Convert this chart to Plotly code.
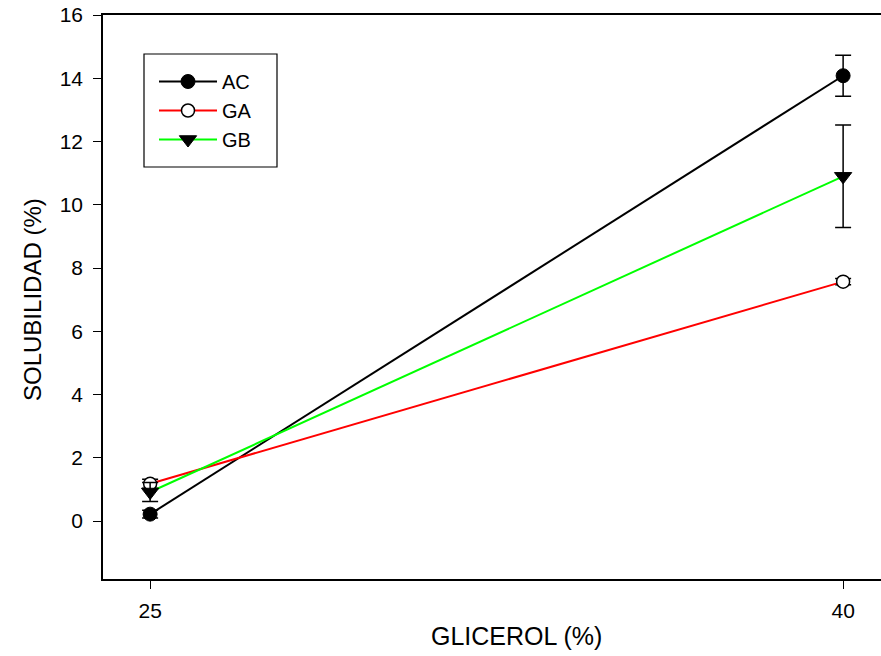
import plotly.graph_objects as go

glicerol = [25, 40]
ac = [0.22, 14.08]
ac_err = [0.12, 0.65]
ga = [1.18, 7.57]
ga_err = [0.14, 0.1]
gb = [0.92, 10.9]
gb_err = [0.3, 1.62]

series = [
    ("AC", ac, ac_err, "black", dict(symbol="circle", color="black", size=14, line=dict(color="black", width=1))),
    ("GA", ga, ga_err, "#ff0000", dict(symbol="circle", color="white", size=13, line=dict(color="black", width=1.5))),
    ("GB", gb, gb_err, "#00ff00", dict(symbol="triangle-down", color="black", size=15, line=dict(color="black", width=1))),
]

W, H = 881, 656
L, R, T, B = 103, 0, 15, 77
PW, PH = W - L - R, H - T - B


def px_x(px):
    return (px - L) / PW


def px_y(py):
    return (H - B - py) / PH


fig = go.Figure()
for name, y, err, col, mk in series:
    fig.add_trace(go.Scatter(
        x=glicerol, y=y, name=name, mode="lines+markers",
        line=dict(color=col, width=2), marker=mk,
        error_y=dict(type="data", array=err, color="black", thickness=1.5, width=8),
    ))

fig.update_layout(
    width=W, height=H,
    margin=dict(l=L, r=R, t=T, b=B, pad=0),
    paper_bgcolor="white", plot_bgcolor="white",
    font=dict(family="Liberation Sans, Arial, sans-serif", size=21, color="black"),
    showlegend=True,
    legend=dict(x=px_x(154), y=px_y(62), xanchor="left", yanchor="top",
                borderwidth=0, bgcolor="rgba(0,0,0,0)",
                font=dict(size=20), tracegroupgap=0, itemwidth=58),
    shapes=[dict(type="rect", xref="paper", yref="paper",
                 x0=px_x(144), x1=px_x(277), y0=px_y(167), y1=px_y(54),
                 line=dict(color="black", width=1.2), fillcolor="rgba(0,0,0,0)", layer="below")],
    xaxis=dict(range=[23.98, 40.82], tickvals=[25, 40], ticks="outside", ticklen=8,
               tickcolor="black", tickwidth=1.2, showline=True, linecolor="black", linewidth=1.5,
               mirror=True, showgrid=False, zeroline=False, ticklabelstandoff=4),
    yaxis=dict(range=[-1.83, 16], tickvals=list(range(0, 17, 2)), ticks="outside", ticklen=8,
               tickcolor="black", tickwidth=1.2, showline=True, linecolor="black", linewidth=1.5,
               mirror=False, showgrid=False, zeroline=False, ticklabelstandoff=6),
    annotations=[
        dict(text="GLICEROL (%)", xref="paper", yref="paper",
             x=px_x(516), y=px_y(636),
             xanchor="center", yanchor="middle", showarrow=False, font=dict(size=25)),
        dict(text="SOLUBILIDAD (%)", xref="paper", yref="paper",
             x=px_x(33), y=px_y(300),
             xanchor="center", yanchor="middle", showarrow=False, textangle=-90,
             font=dict(size=24)),
    ],
)

fig.write_html("out.html", config={"displayModeBar": False},
               post_script="document.body.style.margin='0';document.body.style.padding='0';"
                           "document.body.style.overflow='hidden';")
